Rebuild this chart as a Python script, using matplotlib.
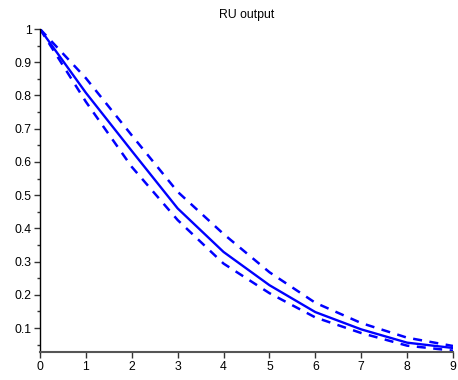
import matplotlib
matplotlib.use("Agg")
import matplotlib.pyplot as plt
from matplotlib.ticker import MultipleLocator

x = [0, 1, 2, 3, 4, 5, 6, 7, 8, 9]
ru_mean = [1.0, 0.808, 0.633, 0.46, 0.329, 0.229, 0.148, 0.096, 0.056, 0.040]
ru_upper = [1.0, 0.852, 0.680, 0.51, 0.383, 0.268, 0.176, 0.115, 0.071, 0.046]
ru_lower = [1.0, 0.781, 0.585, 0.425, 0.294, 0.205, 0.132, 0.085, 0.047, 0.032]
yticks = [0.1, 0.2, 0.3, 0.4, 0.5, 0.6, 0.7, 0.8, 0.9, 1]
ytick_labels = ["0.1", "0.2", "0.3", "0.4", "0.5", "0.6", "0.7", "0.8", "0.9", "1"]

plt.rcParams['font.family'] = ['Liberation Sans', 'DejaVu Sans']

fig = plt.figure(figsize=(4.58, 3.80), dpi=100)
ax = fig.add_axes([40/458, 1-352.3/380, 413/458, (352.3-29)/380])

ax.plot(x, ru_mean, color='#0000ff', lw=1.7)
ax.plot(x, ru_upper, color='#0000ff', lw=1.8, dashes=(3.6, 3))
ax.plot(x, ru_lower, color='#0000ff', lw=1.8, dashes=(3.6, 3))

ax.set_xlim(0, 9)
ax.set_ylim(0.027, 1.0)
ax.set_xticks(x)
ax.set_yticks(yticks)
ax.set_yticklabels(ytick_labels)
ax.yaxis.set_minor_locator(MultipleLocator(0.05))

for s in ['top', 'right']:
    ax.spines[s].set_visible(False)
ax.spines['left'].set_color('#000000')
ax.spines['bottom'].set_color('#555555')
ax.spines['left'].set_linewidth(1.0)
ax.spines['bottom'].set_linewidth(1.5)

ax.tick_params(axis='both', which='major', labelsize=8.8, length=4, width=1, color='#333333', pad=2)
ax.tick_params(axis='y', which='minor', length=2, width=1, color='#333333')

ax.set_title("RU output", fontsize=8.8, pad=8)

fig.savefig("out.png", dpi=100)
